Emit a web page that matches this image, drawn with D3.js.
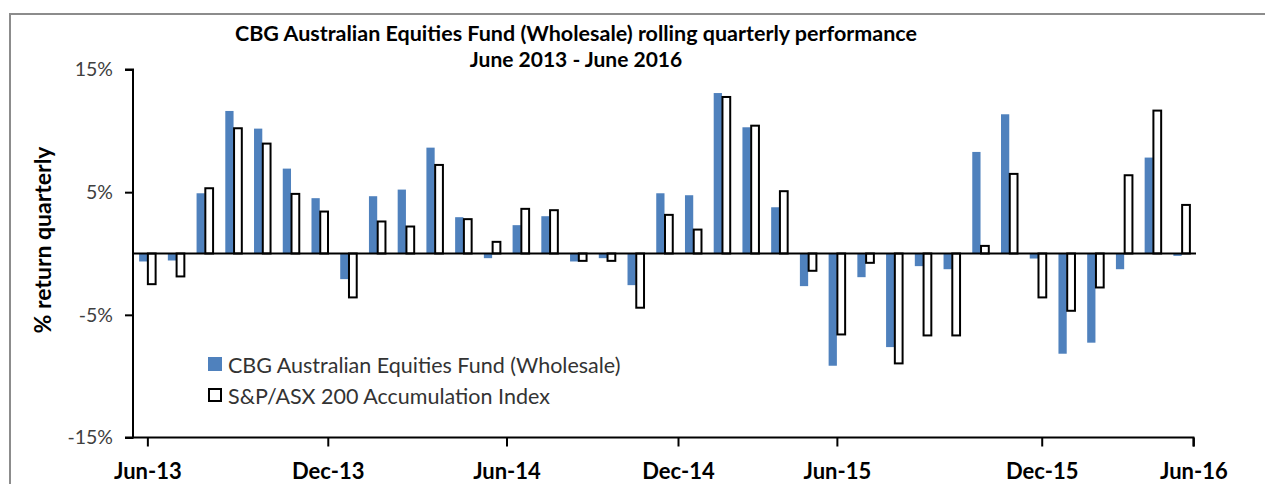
<!DOCTYPE html>
<html lang="en">
<head>
    <meta charset="UTF-8">
    <title>CBG Australian Equities Fund rolling quarterly performance</title>
    <style>
        body {
            margin: 0;
            padding: 0;
            background-color: #fff;
        }

        svg text {
            font-family: Lato, "Open Sans", sans-serif;
        }
    </style>
</head>
<body>

<div id="chart"></div>

<script src="https://d3js.org/d3.v7.min.js"></script>

<script>
    // months Jun-13 .. Jun-16 (rolling quarterly % returns)
    const months = ["Jun-13", "Jul-13", "Aug-13", "Sep-13", "Oct-13", "Nov-13", "Dec-13",
        "Jan-14", "Feb-14", "Mar-14", "Apr-14", "May-14", "Jun-14",
        "Jul-14", "Aug-14", "Sep-14", "Oct-14", "Nov-14", "Dec-14",
        "Jan-15", "Feb-15", "Mar-15", "Apr-15", "May-15", "Jun-15",
        "Jul-15", "Aug-15", "Sep-15", "Oct-15", "Nov-15", "Dec-15",
        "Jan-16", "Feb-16", "Mar-16", "Apr-16", "May-16", "Jun-16"];

    const fundReturns = [-0.65, -0.57, 4.91, 11.62, 10.18, 6.92, 4.51,
        -2.09, 4.67, 5.21, 8.63, 2.96, -0.38,
        2.31, 3.04, -0.65, -0.38, -2.58, 4.91,
        4.75, 13.08, 10.29, 3.77, -2.66, -9.15,
        -1.93, -7.63, -1.03, -1.28, 8.28, 11.35,
        -0.41, -8.17, -7.27, -1.28, 7.82, -0.19];

    const indexReturns = [-2.5, -1.87, 5.32, 10.21, 8.96, 4.86, 3.42,
        -3.58, 2.61, 2.2, 7.22, 2.8, 0.95,
        3.64, 3.53, -0.6, -0.6, -4.42, 3.15,
        1.95, 12.76, 10.42, 5.08, -1.41, -6.6,
        -0.76, -8.96, -6.68, -6.68, 0.62, 6.49,
        -3.58, -4.67, -2.77, 6.38, 11.65, 3.96];

    const seriesNames = ["CBG Australian Equities Fund (Wholesale)", "S&P/ASX 200 Accumulation Index"];

    const yTicks = [15, 5, -5, -15];

    // date labels and where they sit along the month index
    const xTickLabels = ["Jun-13", "Dec-13", "Jun-14", "Dec-14", "Jun-15", "Dec-15", "Jun-16"];
    const xTickMonths = [0, 6.28, 12.5, 18.47, 24, 31.13, 36.41];

    const svgWidth = 1265;
    const svgHeight = 484;
    const margin = { top: 69.5, right: 69, bottom: 46, left: 133 };

    const svg = d3.select("#chart")
        .append("svg")
        .attr("width", svgWidth)
        .attr("height", svgHeight);

    // outer frame (cut off on the right and at the bottom)
    svg.append("rect")
        .attr("x", 10)
        .attr("y", 14)
        .attr("width", 1300)
        .attr("height", 520)
        .attr("fill", "none")
        .attr("stroke", "#8c8c8c")
        .attr("stroke-width", 2);

    const x = d3.scaleBand()
        .domain(d3.range(months.length))
        .range([margin.left, svgWidth - margin.right]);

    const xInner = d3.scaleBand()
        .domain([0, 1])
        .range([0, x.bandwidth()])
        .paddingOuter(0.74);

    const y = d3.scaleLinear()
        .domain([-15, 15])
        .range([svgHeight - margin.bottom - 0.5, margin.top]);

    const xDate = d3.scaleLinear()
        .domain([0, months.length - 1])
        .range([x(0) + x.bandwidth() / 2, x(months.length - 1) + x.bandwidth() / 2]);

    // bars
    const groups = svg.append("g")
        .selectAll("g")
        .data(months.map((m, i) => [fundReturns[i], indexReturns[i]]))
        .join("g")
        .attr("transform", (d, i) => "translate(" + x(i) + ",0)");

    groups.append("rect")
        .attr("x", xInner(0))
        .attr("width", xInner.bandwidth())
        .attr("y", d => y(Math.max(0, d[0])))
        .attr("height", d => Math.abs(y(d[0]) - y(0)))
        .attr("fill", "#4f81bd");

    groups.append("rect")
        .attr("x", xInner(1) + 0.5)
        .attr("width", xInner.bandwidth() - 0.5)
        .attr("y", d => y(Math.max(0, d[1])))
        .attr("height", d => Math.abs(y(d[1]) - y(0)))
        .attr("fill", "#fff")
        .attr("stroke", "#000")
        .attr("stroke-width", 2);

    // zero line
    svg.append("line")
        .attr("x1", margin.left)
        .attr("x2", svgWidth - margin.right)
        .attr("y1", y(0))
        .attr("y2", y(0))
        .attr("stroke", "#000")
        .attr("stroke-width", 2);

    // y axis
    const yAxis = svg.append("g")
        .attr("transform", "translate(" + margin.left + ",0)")
        .call(d3.axisLeft(y)
            .tickValues(yTicks)
            .tickSize(8)
            .tickPadding(12)
            .tickFormat(d => d + "%"));

    yAxis.select(".domain").attr("stroke", "#000").attr("stroke-width", 2)
        .attr("d", "M-8," + y(15) + "H0V" + y(-15) + "H-8");
    yAxis.selectAll(".tick line").attr("stroke", "#000").attr("stroke-width", 2);
    yAxis.selectAll(".tick text")
        .attr("fill", "#404040")
        .style("font-size", "19.5px");

    // bottom date axis
    const xAxis = svg.append("g")
        .attr("transform", "translate(0," + y(-15) + ")")
        .call(d3.axisBottom(xDate)
            .tickValues(xTickMonths)
            .tickSize(9)
            .tickPadding(17)
            .tickFormat((d, i) => xTickLabels[i]));

    xAxis.select(".domain").attr("stroke", "#000").attr("stroke-width", 2)
        .attr("d", "M" + margin.left + ",0H" + xDate(xTickMonths[xTickMonths.length - 1]) + "V9");
    xAxis.selectAll(".tick line").attr("stroke", "#000").attr("stroke-width", 2);
    xAxis.selectAll(".tick text")
        .attr("fill", "#000")
        .style("font-size", "22px")
        .style("font-weight", "bold");

    // titles
    svg.append("text")
        .attr("x", 576)
        .attr("y", 41)
        .attr("text-anchor", "middle")
        .style("font-size", "21.5px")
        .style("font-weight", "bold")
        .text("CBG Australian Equities Fund (Wholesale) rolling quarterly performance");

    svg.append("text")
        .attr("x", 576)
        .attr("y", 67)
        .attr("text-anchor", "middle")
        .style("font-size", "21px")
        .style("font-weight", "bold")
        .text("June 2013 - June 2016");

    svg.append("text")
        .attr("transform", "translate(51,240) rotate(-90)")
        .attr("text-anchor", "middle")
        .style("font-size", "23px")
        .style("font-weight", "bold")
        .text("% return quarterly");

    // legend
    const legend = svg.append("g")
        .selectAll("g")
        .data(seriesNames)
        .join("g")
        .attr("transform", (d, i) => "translate(208," + (357 + i * 31) + ")");

    legend.append("rect")
        .attr("x", (d, i) => i ? 1 : 0)
        .attr("y", (d, i) => i ? 1 : 0)
        .attr("width", (d, i) => i ? 12 : 14)
        .attr("height", (d, i) => i ? 12 : 14)
        .attr("fill", (d, i) => i ? "#fff" : "#4f81bd")
        .attr("stroke", (d, i) => i ? "#000" : "none")
        .attr("stroke-width", 2);

    legend.append("text")
        .attr("x", 20)
        .attr("y", 15.5)
        .attr("fill", "#333")
        .style("font-size", "21.5px")
        .text(d => d);
</script>

</body>
</html>
